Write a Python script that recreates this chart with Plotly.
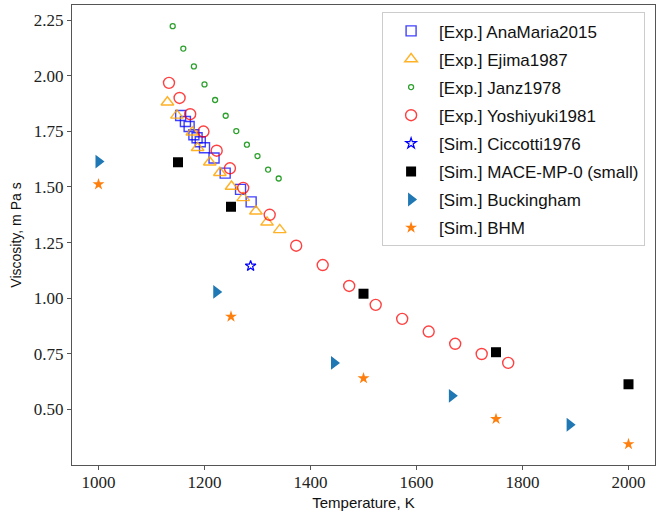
import plotly.graph_objects as go

# Experimental viscosity data (temperature in K, viscosity in mPa s)
anamaria_T = [1155, 1164, 1171, 1180, 1186, 1192, 1200, 1218, 1239, 1268, 1288]
anamaria_V = [1.821, 1.794, 1.772, 1.735, 1.721, 1.703, 1.676, 1.630, 1.562, 1.489, 1.433]

ejima_T = [1130, 1148, 1177, 1187, 1210, 1229, 1251, 1273, 1297, 1318, 1342]
ejima_V = [1.881, 1.822, 1.746, 1.676, 1.611, 1.564, 1.502, 1.451, 1.391, 1.341, 1.307]

janz_T = [1140, 1160, 1180, 1200, 1220, 1240, 1260, 1280, 1300, 1320, 1340]
janz_V = [2.223, 2.122, 2.042, 1.961, 1.891, 1.820, 1.751, 1.690, 1.639, 1.578, 1.538]

yoshiyuki_T = [1133, 1153, 1173, 1198, 1223, 1248, 1273, 1323, 1373, 1423,
               1473, 1523, 1573, 1623, 1673, 1723, 1773]
yoshiyuki_V = [1.968, 1.900, 1.827, 1.749, 1.663, 1.584, 1.496, 1.375, 1.236, 1.149,
               1.055, 0.970, 0.907, 0.850, 0.795, 0.749, 0.709]

# Simulation results
ciccotti_T = [1287]
ciccotti_V = [1.145]

mace_T = [1150, 1250, 1500, 1750, 2000]
mace_V = [1.611, 1.411, 1.020, 0.757, 0.613]

buckingham_T = [1000, 1222.2, 1444.4, 1666.7, 1888.9]
buckingham_V = [1.614, 1.028, 0.709, 0.561, 0.431]

bhm_T = [1000, 1250, 1500, 1750, 2000]
bhm_V = [1.512, 0.917, 0.640, 0.457, 0.344]

x_ticks = [1000, 1200, 1400, 1600, 1800, 2000]
y_ticks = [0.5, 0.75, 1.0, 1.25, 1.5, 1.75, 2.0, 2.25]

series = [
    ("[Exp.] AnaMaria2015", anamaria_T, anamaria_V,
     dict(symbol="square-open", size=10, color="rgba(0,0,255,0.75)", line=dict(width=1.4))),
    ("[Exp.] Ejima1987", ejima_T, ejima_V,
     dict(symbol="triangle-up-open", size=11, color="rgba(255,165,0,0.85)", line=dict(width=1.4))),
    ("[Exp.] Janz1978", janz_T, janz_V,
     dict(symbol="circle-open", size=5, color="#2ca02c", line=dict(width=1.3))),
    ("[Exp.] Yoshiyuki1981", yoshiyuki_T, yoshiyuki_V,
     dict(symbol="circle-open", size=11, color="rgba(255,0,0,0.75)", line=dict(width=1.4))),
    ("[Sim.] Ciccotti1976", ciccotti_T, ciccotti_V,
     dict(symbol="star-open", size=8, color="#0000ff", line=dict(width=1.2))),
    ("[Sim.] MACE-MP-0 (small)", mace_T, mace_V,
     dict(symbol="square", size=10, color="#000000", line=dict(width=0))),
    ("[Sim.] Buckingham", buckingham_T, buckingham_V,
     dict(symbol="triangle-right", size=12, color="#1f77b4", line=dict(width=0))),
    ("[Sim.] BHM", bhm_T, bhm_V,
     dict(symbol="star", size=9, color="#ff7f0e", line=dict(width=0))),
]

fig = go.Figure()
for i, (name, t, v, marker) in enumerate(series):
    fig.add_trace(go.Scatter(x=t, y=v, mode="markers", name=name, marker=marker,
                             legendgroup=str(i)))

tick_font = dict(family="Liberation Serif", size=17, color="#222222")
axis_common = dict(
    showline=True, linecolor="#555555", linewidth=1.2, mirror=True,
    ticks="outside", ticklen=4, tickcolor="#555555",
    showgrid=False, zeroline=False, tickfont=tick_font,
)

fig.update_layout(
    width=670, height=512,
    margin=dict(l=72, r=15, t=4, b=43),
    paper_bgcolor="white", plot_bgcolor="white",
    xaxis=dict(range=[950, 2050], tickvals=x_ticks,
               ticktext=[f"{t:d}" for t in x_ticks],
               ticklabelstandoff=-3,
               title=dict(text="Temperature, K", standoff=6,
                          font=dict(family="Liberation Sans", size=15, color="#111111")),
               **axis_common),
    yaxis=dict(range=[0.25, 2.318], tickvals=y_ticks,
               ticktext=[f"{v:.2f}" for v in y_ticks],
               title=dict(text="Viscosity, m Pa s", standoff=8,
                          font=dict(family="Liberation Sans", size=14, color="#111111")),
               **axis_common),
    legend=dict(x=0.983, y=0.984, xanchor="right", yanchor="top",
                bgcolor="rgba(255,255,255,0.85)", bordercolor="#cccccc", borderwidth=1,
                font=dict(family="Liberation Sans", size=17, color="#111111"),
                tracegroupgap=3, itemwidth=46),
    showlegend=True,
)

fig.write_html("out.html")
